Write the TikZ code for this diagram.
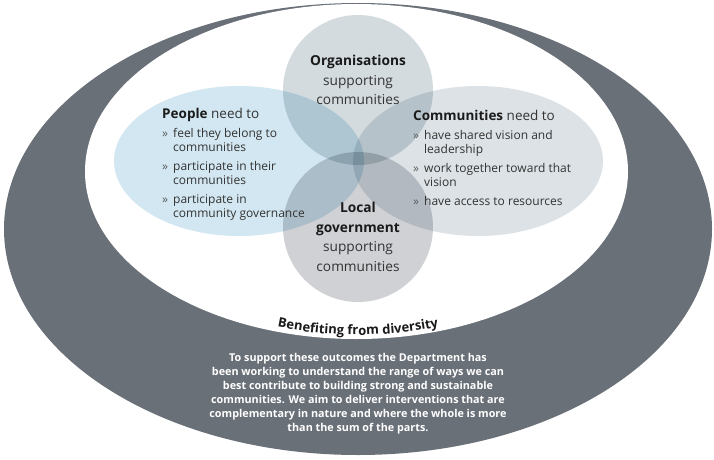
\documentclass[tikz,border=0pt]{standalone}
\usepackage{fontspec}
\setmainfont{Open Sans}
\usetikzlibrary{decorations.text}
\definecolor{ringgray}{HTML}{6A7078}
\definecolor{peopleblue}{HTML}{D2E7F1}
\definecolor{orggray}{HTML}{D3DBDF}
\definecolor{commgray}{HTML}{DCE2E6}
\definecolor{govgray}{HTML}{CFD1D5}
\definecolor{textgray}{HTML}{333333}
\definecolor{headblack}{HTML}{1A1A1A}
\newcommand{\bl}{\makebox[11pt][l]{\color{textgray!80}»}}
\newcommand{\ind}{\hspace*{11pt}}
\tikzset{
  x=1pt,y=1pt,
  bubble/.style={draw=none, inner sep=0pt},
  listtext/.style={align=left, anchor=north west, inner sep=0pt, text=textgray,
    font=\fontsize{12}{14}\selectfont},
  centertext/.style={align=center, inner sep=0pt, text=textgray,
    font=\fontsize{13.7}{19.5}\selectfont},
}
\begin{document}
\begin{tikzpicture}
\useasboundingbox (0,0) rectangle (714,459);
% outer ring
\fill[ringgray] (358,230) ellipse [x radius=354, y radius=226];
\node[bubble] (outer) at (358,230) {};
\fill[white] (356.5,287.5) ellipse [x radius=271.5, y radius=167.5];
\node[bubble] (inner) at (356.5,287.5) {};
% four bubbles with multiply blending
\begin{scope}[blend group=multiply]
  \fill[peopleblue] (239,298) ellipse [x radius=125, y radius=75];
  \fill[commgray] (478,298) ellipse [x radius=125, y radius=75];
  \fill[orggray] (358,369) circle [radius=75];
  \fill[govgray] (358,232) circle [radius=75];
\end{scope}
\node[bubble] (people) at (239,298) {};
\node[bubble] (comm) at (478,298) {};
\node[bubble] (org) at (358,369) {};
\node[bubble] (gov) at (358,232) {};
% centre labels
\node[centertext] (orgtext) at (358,379)
  {\textcolor{headblack}{\bfseries Organisations}\\supporting\\communities};
\node[centertext] (govtext) at (358,222)
  {\textcolor{headblack}{\bfseries Local}\\\textcolor{headblack}{\bfseries government}\\supporting\\communities};
% People list
\node[listtext] (peopletext) at (162,351)
  {{\fontsize{13.5}{14}\selectfont\textcolor{headblack}{\bfseries People} need to}\\[5pt]
   \bl feel they belong to\\ \ind communities\\[5pt]
   \bl participate in their\\ \ind communities\\[5pt]
   \bl participate in\\ \ind community governance};
% Communities list
\node[listtext] (commtext) at (413,349)
  {{\fontsize{13.5}{14}\selectfont\textcolor{headblack}{\bfseries Communities} need to}\\[5pt]
   \bl have shared vision and\\ \ind leadership\\[5pt]
   \bl work together toward that\\ \ind vision\\[5pt]
   \bl have access to resources};
% curved title
\path[decorate, decoration={text along path, text align=center,
  text={|\fontsize{13}{14}\selectfont\bfseries\color{headblack}|Benefiting from diversity}}]
  (358,528) ++(250:404) arc [start angle=250, end angle=290, radius=404];
\coordinate (titlepos) at (358,128);
% body text
\node[align=center, inner sep=0pt, text=white, font=\fontsize{10.8}{14}\selectfont\bfseries] (body) at (358,65)
  {To support these outcomes the Department has\\
   been working to understand the range of ways we can\\
   best contribute to building strong and sustainable\\
   communities. We aim to deliver interventions that are\\
   complementary in nature and where the whole is more\\
   than the sum of the parts.};
\end{tikzpicture}
\end{document}
